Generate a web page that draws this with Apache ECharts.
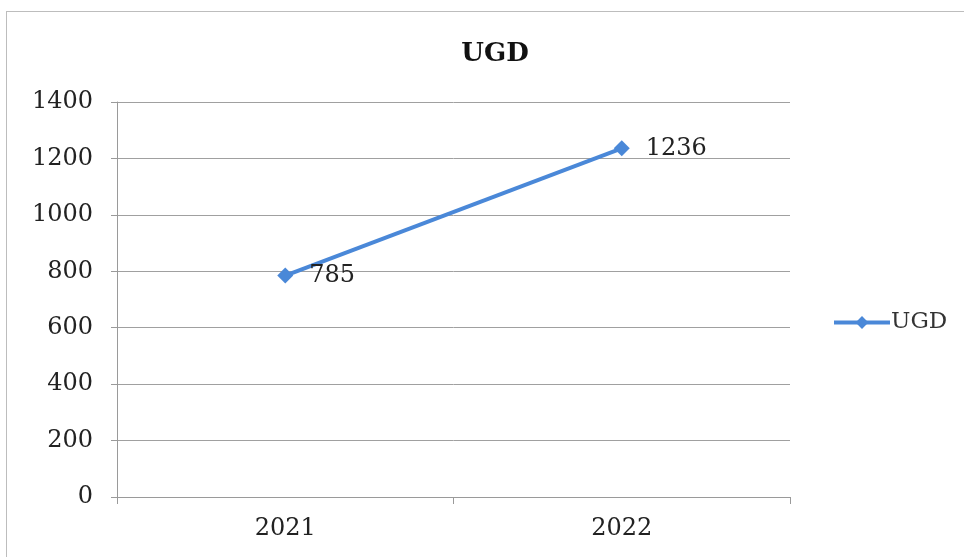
<!DOCTYPE html>
<html><head><meta charset="utf-8">
<script src="https://cdn.jsdelivr.net/npm/echarts@6/dist/echarts.min.js"></script>
<style>
html,body{margin:0;padding:0;background:#fff;}
#frame{position:absolute;left:6px;top:11px;width:970px;height:560px;border:1px solid #bdbdbd;box-sizing:border-box;}
#c{position:absolute;left:0;top:0;width:964px;height:557px;}
</style></head>
<body>
<div id="frame"></div>
<div id="c"></div>
<script>
const categories = ['2021', '2022'];
const ugdValues = [785, 1236];
const seriesName = 'UGD';

const chart = echarts.init(document.getElementById('c'));
const font = '"DejaVu Serif", "Liberation Serif", serif';
chart.setOption({
  animation: false,
  title: {
    text: 'UGD', left: 490, top: 36, textAlign: 'center',
    textStyle: {fontFamily: font, fontSize: 26, fontWeight: 'bold', color: '#111'}
  },
  legend: {
    data: [seriesName], left: 827, top: 306, orient: 'vertical',
    itemWidth: 56, itemHeight: 16, itemGap: 4,
    lineStyle: {width: 4},
    textStyle: {fontFamily: font, fontSize: 23, color: '#333', padding: [0, 0, 0, -4]}
  },
  grid: {left: 117, right: 174, top: 102, bottom: 60},
  xAxis: {
    type: 'category', data: categories, boundaryGap: true,
    axisLine: {lineStyle: {color: '#9a9a9a', width: 1}},
    axisTick: {show: true, length: 7, lineStyle: {color: '#9a9a9a'}},
    axisLabel: {fontFamily: font, fontSize: 24, color: '#222', margin: 20}
  },
  yAxis: {
    type: 'value', min: 0, max: 1400, interval: 200,
    axisLine: {show: true, lineStyle: {color: '#9a9a9a', width: 1}},
    axisTick: {show: true, length: 6, lineStyle: {color: '#9a9a9a'}},
    splitLine: {lineStyle: {color: '#a0a0a0', width: 1}},
    axisLabel: {fontFamily: font, fontSize: 24, color: '#222', margin: 24,
      formatter: function (v) { return String(v); }}
  },
  series: [{
    name: seriesName, type: 'line', data: ugdValues,
    symbol: 'diamond', symbolSize: 16,
    lineStyle: {color: '#4a88d8', width: 4},
    itemStyle: {color: '#4a88d8'},
    label: {show: true, position: 'right', distance: 16, fontFamily: font, fontSize: 24, color: '#222'}
  }]
});
</script>
</body></html>
